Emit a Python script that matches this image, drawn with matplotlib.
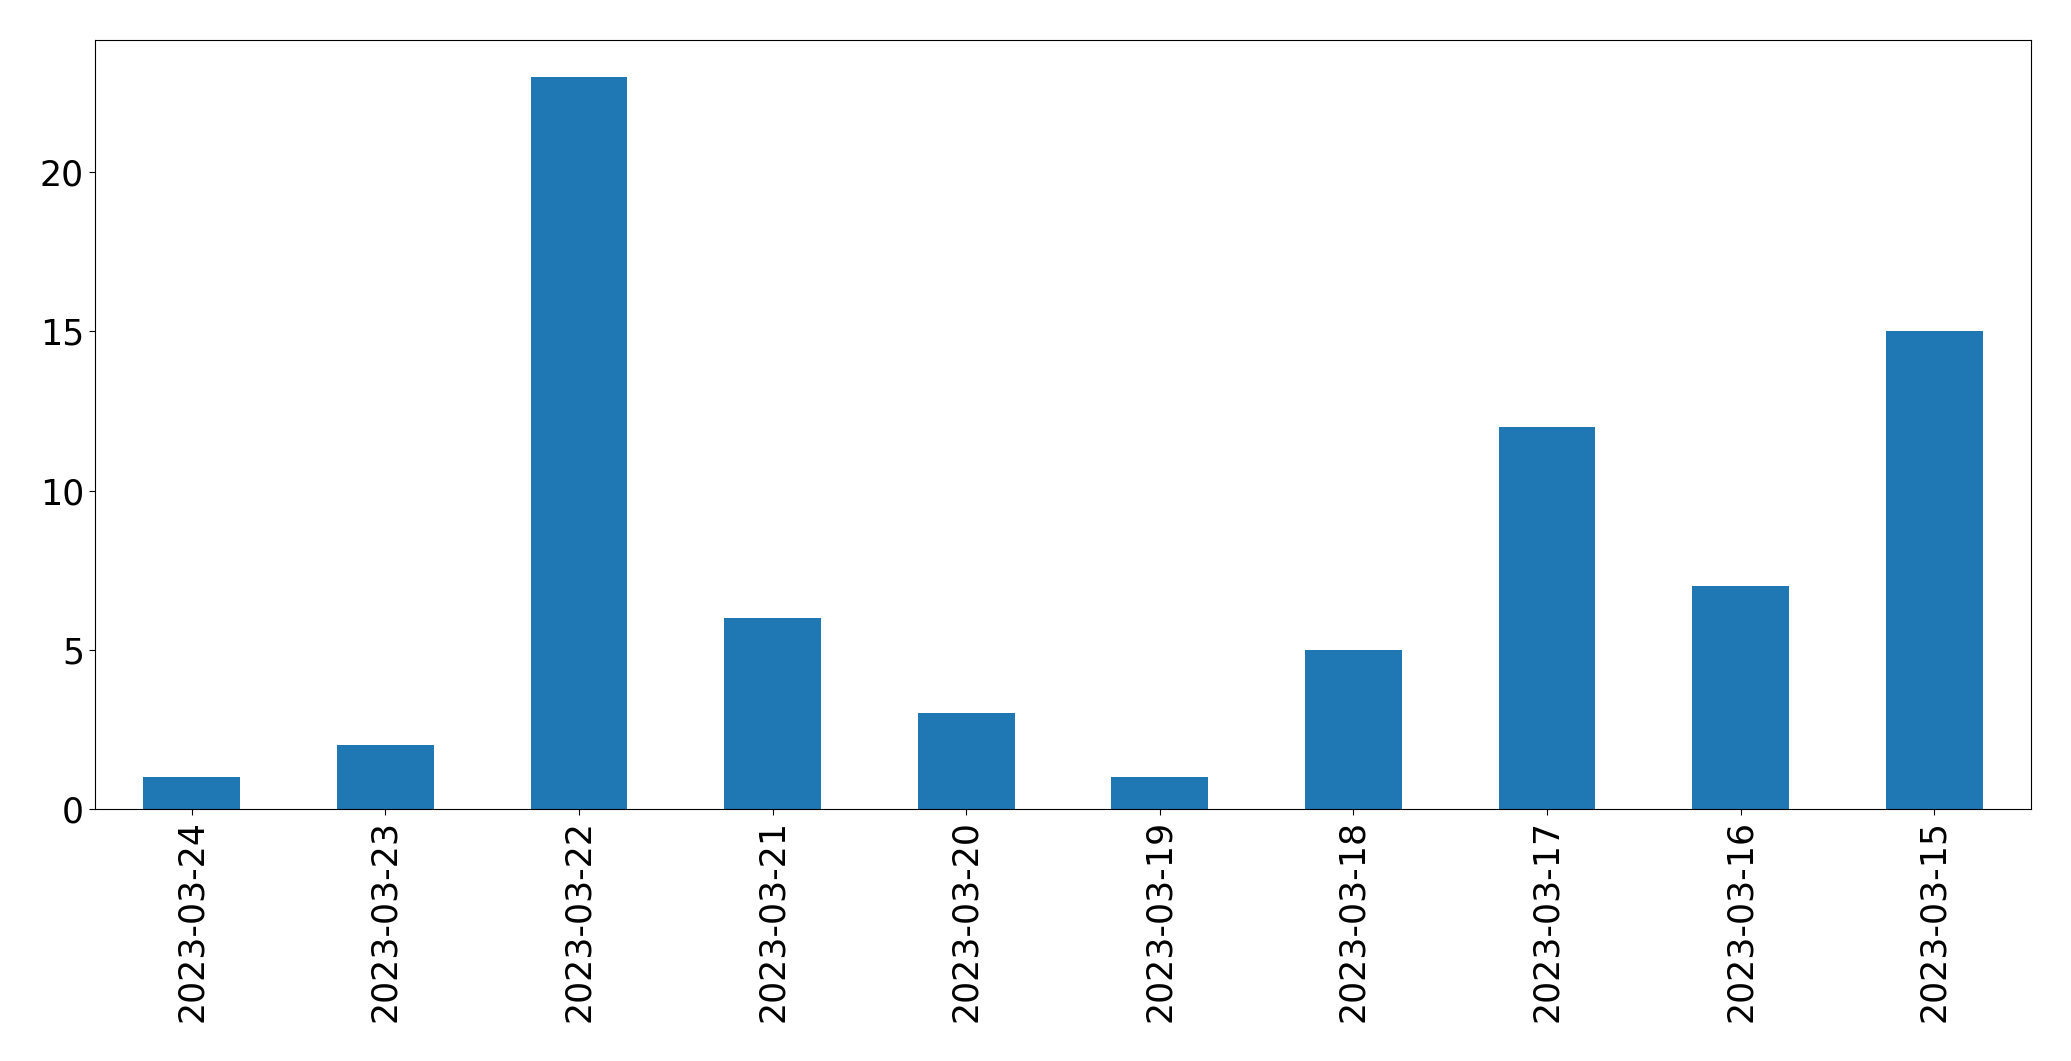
import matplotlib
matplotlib.use("Agg")
import matplotlib.pyplot as plt

dates = ["2023-03-24", "2023-03-23", "2023-03-22", "2023-03-21", "2023-03-20",
         "2023-03-19", "2023-03-18", "2023-03-17", "2023-03-16", "2023-03-15"]
counts = [1, 2, 23, 6, 3, 1, 5, 12, 7, 15]

W, H = 2071, 1061
fig = plt.figure(figsize=(W / 100, H / 100), dpi=100)
ax = fig.add_axes([95 / W, 1 - 809 / H, (2031 - 95) / W, (809 - 40) / H])
x = list(range(len(dates)))
ax.bar(x, counts, width=0.5, color="#1f77b4")
ax.set_xlim(-0.5, len(dates) - 0.5)
ax.set_ylim(0, max(counts) * 1.05)
ax.set_xticks(x)
ax.set_xticklabels(dates, rotation=90)
ax.set_yticks([0, 5, 10, 15, 20])
ax.tick_params(labelsize=25, length=4.5)
fig.savefig("out.png", dpi=100)
